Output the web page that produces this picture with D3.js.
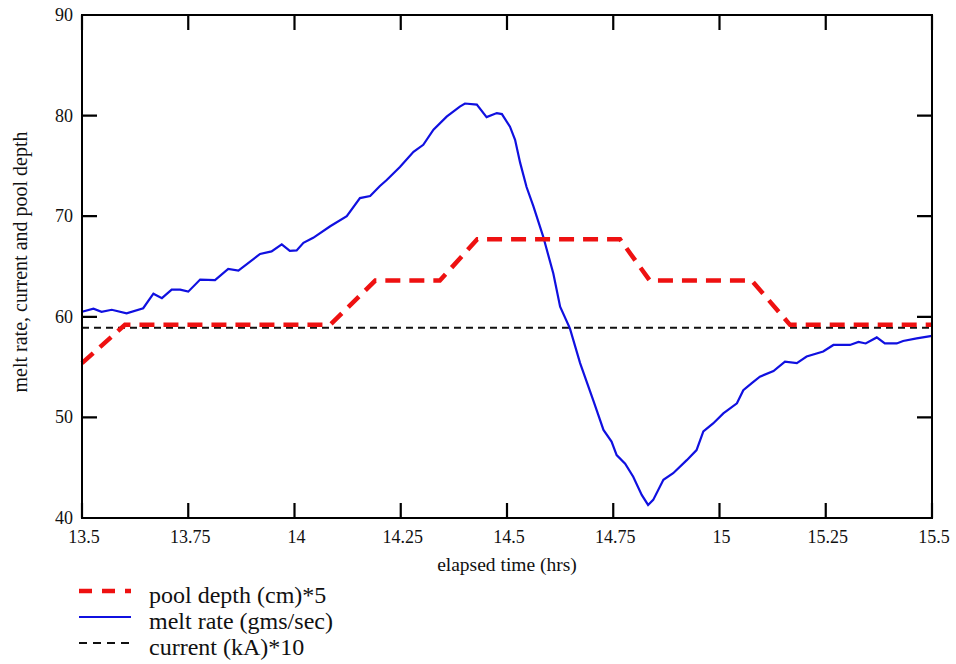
<!DOCTYPE html>
<html><head><meta charset="utf-8">
<script src="https://cdn.jsdelivr.net/npm/d3@7"></script>
<style>body{margin:0;background:#fff}svg{display:block}text{font-family:"Liberation Serif","Times New Roman",serif;fill:#111}</style>
</head><body><div id="chart"></div>
<script>
const xTicks = [13.5, 13.75, 14, 14.25, 14.5, 14.75, 15, 15.25, 15.5];
const xTickLabels = ["13.5","13.75","14","14.25","14.5","14.75","15","15.25","15.5"];
const yTicks = [40, 50, 60, 70, 80, 90];

const poolTime  = [13.5, 13.601, 14.084, 14.19, 14.342, 14.43, 14.766, 14.836, 15.076, 15.166, 15.5];
const poolValue = [55.4, 59.2, 59.2, 63.6, 63.6, 67.7, 67.7, 63.6, 63.6, 59.2, 59.2];

const currentTime  = [13.5, 15.5];
const currentValue = [58.9, 58.9];

const meltTime = [13.5,13.527,13.546,13.570,13.605,13.644,13.668,13.688,13.711,13.731,13.750,13.778,13.813,13.844,13.868,13.919,13.946,13.970,13.989,14.005,14.021,14.044,14.084,14.123,14.154,14.178,14.201,14.217,14.248,14.280,14.303,14.327,14.358,14.389,14.401,14.429,14.452,14.476,14.488,14.507,14.519,14.531,14.546,14.562,14.585,14.609,14.625,14.648,14.672,14.703,14.727,14.746,14.758,14.778,14.797,14.817,14.832,14.844,14.868,14.891,14.923,14.946,14.962,14.985,15.009,15.041,15.056,15.076,15.095,15.127,15.154,15.182,15.205,15.244,15.268,15.307,15.327,15.344,15.370,15.389,15.417,15.432,15.464,15.5];
const meltValue = [60.5,60.8,60.5,60.7,60.35,60.85,62.3,61.85,62.7,62.7,62.5,63.7,63.65,64.75,64.6,66.25,66.5,67.2,66.55,66.6,67.35,67.85,69.0,70.0,71.8,72.0,73.0,73.6,74.9,76.4,77.1,78.6,79.9,80.9,81.2,81.1,79.85,80.25,80.15,78.9,77.6,75.3,72.9,71.0,68.0,64.3,61.0,58.85,55.4,51.7,48.75,47.6,46.25,45.4,44.1,42.3,41.3,41.8,43.8,44.45,45.75,46.75,48.6,49.4,50.4,51.4,52.7,53.4,54.05,54.6,55.55,55.4,56.05,56.55,57.2,57.2,57.5,57.35,57.95,57.35,57.35,57.6,57.85,58.1];

const legendLabels = ["pool depth (cm)*5", "melt rate (gms/sec)", "current (kA)*10"];

const W = 956, H = 664;
const L = 82, R = 932, T = 15, B = 518;
const svg = d3.select("#chart").append("svg").attr("width", W).attr("height", H);
const x = d3.scaleLinear().domain([13.5, 15.5]).range([L, R]);
const y = d3.scaleLinear().domain([40, 90]).range([B, T]);
const serif = '"Liberation Serif","Times New Roman",serif';

const line = d3.line().x(d=>x(d[0])).y(d=>y(d[1]));

svg.append("path").datum(currentTime.map((t,i)=>[t,currentValue[i]]))
  .attr("d", line).attr("fill","none").attr("stroke","#111").attr("stroke-width",2).attr("stroke-dasharray","7,5");
svg.append("path").datum(meltTime.map((t,i)=>[t,meltValue[i]]))
  .attr("d", line).attr("fill","none").attr("stroke","#1010e0").attr("stroke-width",2.2);
svg.append("path").datum(poolTime.map((t,i)=>[t,poolValue[i]]))
  .attr("d", line).attr("fill","none").attr("stroke","#ee1111").attr("stroke-width",4.5).attr("stroke-dasharray","15,9");

// frame
svg.append("rect").attr("x", L).attr("y", T).attr("width", R - L).attr("height", B - T)
  .attr("fill", "none").attr("stroke", "#000").attr("stroke-width", 2);

// ticks (mirrored, inward) drawn as one path
const tl = 15;
let dStr = "";
xTicks.forEach(v => {
  const px = x(v);
  dStr += `M${px},${B}V${B - tl}M${px},${T}V${T + tl}`;
});
yTicks.forEach(v => {
  const py = y(v);
  dStr += `M${L},${py}H${L + tl}M${R},${py}H${R - tl}`;
});
svg.append("path").attr("class","tickmarks").attr("d", dStr)
  .attr("fill","none").attr("stroke","#000").attr("stroke-width",2.2);

// tick labels
svg.append("g").selectAll("text").data(xTicks).join("text")
  .attr("x",d=>x(d)+2).attr("y",B+25).attr("text-anchor","middle")
  .style("font-family",serif).style("font-size","18px").text((d,i)=>xTickLabels[i]);
svg.append("g").selectAll("text").data(yTicks).join("text")
  .attr("x",L-9).attr("y",d=>y(d)+6).attr("text-anchor","end")
  .style("font-family",serif).style("font-size","18px").text(d=>d);

// axis titles
svg.append("text").attr("x", 507).attr("y", 571).attr("text-anchor","middle")
  .style("font-family",serif).style("font-size","19.5px").text("elapsed time (hrs)");
svg.append("text").attr("transform", `translate(27,262) rotate(-90)`).attr("text-anchor","middle")
  .style("font-family",serif).style("font-size","20px").text("melt rate, current and pool depth");

// legend
const styles = [
  {stroke:"#ee1111", w:4.5, dash:"13,10"},
  {stroke:"#1010e0", w:2.2, dash:null},
  {stroke:"#111", w:2, dash:"8,6"}
];
legendLabels.forEach((lab,i)=>{
  const yy = 591 + i*26;
  const l = svg.append("line").attr("x1",79).attr("x2",131).attr("y1",yy).attr("y2",yy)
    .attr("stroke",styles[i].stroke).attr("stroke-width",styles[i].w);
  if (styles[i].dash) l.attr("stroke-dasharray", styles[i].dash);
  svg.append("text").attr("x",149).attr("y",yy+12).style("font-family",serif).style("font-size","24px").text(lab);
});
</script></body></html>
